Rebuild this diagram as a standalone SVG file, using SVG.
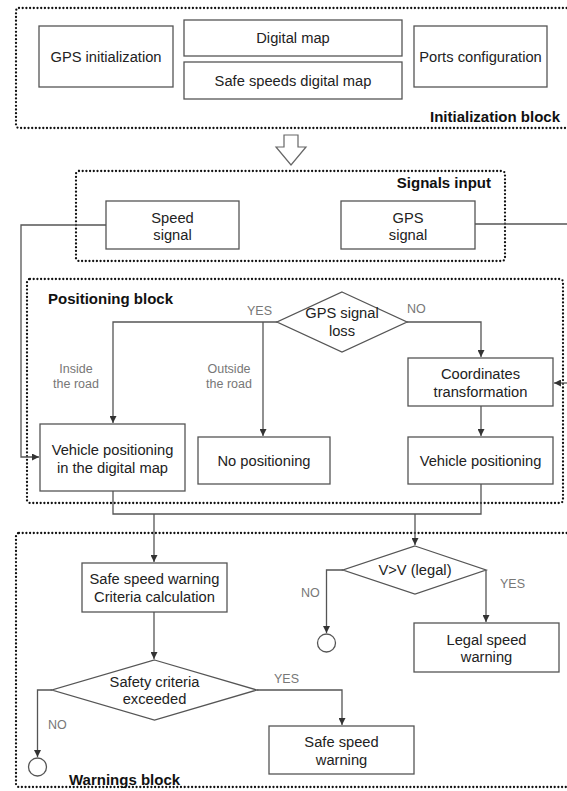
<svg xmlns="http://www.w3.org/2000/svg" width="567" height="791" viewBox="0 0 567 791">
<style>
.blk{fill:none;stroke:#111;stroke-width:2.3;stroke-dasharray:0 3.7;stroke-linecap:round}
.box{fill:#fff;stroke:#555;stroke-width:1.3}
.t{font-family:"Liberation Sans",Arial,sans-serif;font-size:14.7px;fill:#222;text-anchor:middle}
.b{font-family:"Liberation Sans",Arial,sans-serif;font-size:15px;font-weight:bold;fill:#111}
.l{font-family:"Liberation Sans",Arial,sans-serif;font-size:12.5px;fill:#777}
.c{fill:none;stroke:#555;stroke-width:1.3}
</style>
<defs>
<marker id="ah" markerUnits="userSpaceOnUse" markerWidth="7" markerHeight="7" refX="7" refY="3.5" orient="auto">
<path d="M0,0 L7,3.5 L0,7 z" fill="#333"/>
</marker>
</defs>
<rect width="567" height="791" fill="#fff"/>

<g id="blocks">
<rect class="blk" x="16" y="8" width="580" height="120" rx="3"/>
<rect class="blk" x="76" y="171" width="429" height="90" rx="3"/>
<rect class="blk" x="27" y="279" width="536" height="224" rx="3"/>
<rect class="blk" x="16" y="533" width="580" height="254" rx="3"/>
<text class="b" x="560" y="122" text-anchor="end">Initialization block</text>
<text class="b" x="491" y="188" text-anchor="end">Signals input</text>
<text class="b" x="48" y="304">Positioning block</text>
<text class="b" x="69" y="785">Warnings block</text>
</g>

<g id="connectors">
<polygon points="284,135 298,135 298,147 306,147 291,165 276,147 284,147" fill="#fff" stroke="#666" stroke-width="1.2"/>
<path class="c" d="M106,225 H21 V457 H39" marker-end="url(#ah)"/>
<path class="c" d="M475,224 H567"/>
<path class="c" d="M567,383 H554" marker-end="url(#ah)"/>
<path class="c" d="M277,322 H113 V423" marker-end="url(#ah)"/>
<path class="c" d="M263,322 V436" marker-end="url(#ah)"/>
<path class="c" d="M407,322 H481 V357" marker-end="url(#ah)"/>
<path class="c" d="M481,406 V436" marker-end="url(#ah)"/>
<path class="c" d="M113,491 V514 H481 V484"/>
<path class="c" d="M154,514 V562" marker-end="url(#ah)"/>
<path class="c" d="M415,514 V545" marker-end="url(#ah)"/>
<path class="c" d="M154,612 V659" marker-end="url(#ah)"/>
<path class="c" d="M52,690 H37.5 V757" marker-end="url(#ah)"/>
<path class="c" d="M257,690 H342 V725" marker-end="url(#ah)"/>
<path class="c" d="M343,570 H326.5 V633" marker-end="url(#ah)"/>
<path class="c" d="M486,570 V622" marker-end="url(#ah)"/>
<text class="l" x="247" y="315">YES</text>
<text class="l" x="407" y="313">NO</text>
<text class="l" x="76" y="373" text-anchor="middle">Inside</text>
<text class="l" x="76" y="388" text-anchor="middle">the road</text>
<text class="l" x="229" y="373" text-anchor="middle">Outside</text>
<text class="l" x="229" y="388" text-anchor="middle">the road</text>
<text class="l" x="48" y="729">NO</text>
<text class="l" x="274" y="683">YES</text>
<text class="l" x="301" y="597">NO</text>
<text class="l" x="500" y="588">YES</text>
</g>

<g id="gps-init"><rect class="box" x="39" y="26" width="134" height="61"/><text class="t" x="106" y="62">GPS initialization</text></g>
<g id="digital-map"><rect class="box" x="184" y="20" width="218" height="36"/><text class="t" x="293" y="43">Digital map</text></g>
<g id="safe-speeds-map"><rect class="box" x="184" y="62" width="218" height="37"/><text class="t" x="293" y="86">Safe speeds digital map</text></g>
<g id="ports-config"><rect class="box" x="414" y="26" width="133" height="61"/><text class="t" x="480.5" y="62">Ports configuration</text></g>

<g id="speed-signal"><rect class="box" x="106" y="201" width="133" height="48"/><text class="t" x="172.5" y="223">Speed</text><text class="t" x="172.5" y="240">signal</text></g>
<g id="gps-signal"><rect class="box" x="341" y="201" width="134" height="48"/><text class="t" x="408" y="223">GPS</text><text class="t" x="408" y="240">signal</text></g>

<g id="gps-loss"><polygon class="box" points="342,292 407,322 342,352 277,322"/><text class="t" x="342" y="318">GPS signal</text><text class="t" x="342" y="336">loss</text></g>
<g id="veh-pos-map"><rect class="box" x="40" y="424" width="145" height="67"/><text class="t" x="112.5" y="455">Vehicle positioning</text><text class="t" x="112.5" y="473">in the digital map</text></g>
<g id="no-pos"><rect class="box" x="198" y="437" width="132" height="47"/><text class="t" x="264" y="466">No positioning</text></g>
<g id="coord-trans"><rect class="box" x="408" y="358" width="145" height="48"/><text class="t" x="480.5" y="379">Coordinates</text><text class="t" x="480.5" y="397">transformation</text></g>
<g id="veh-pos"><rect class="box" x="408" y="437" width="145" height="47"/><text class="t" x="480.5" y="466">Vehicle positioning</text></g>

<g id="criteria-calc"><rect class="box" x="82" y="563" width="145" height="49"/><text class="t" x="154.5" y="584">Safe speed warning</text><text class="t" x="154.5" y="602">Criteria calculation</text></g>
<g id="safety-exceeded"><polygon class="box" points="154.5,660 257,690 154.5,720 52,690"/><text class="t" x="154.5" y="687">Safety criteria</text><text class="t" x="154.5" y="704">exceeded</text></g>
<g id="end-1"><circle class="box" cx="37.5" cy="767" r="9"/></g>
<g id="safe-warning"><rect class="box" x="269" y="726" width="145" height="48"/><text class="t" x="341.5" y="747">Safe speed</text><text class="t" x="341.5" y="765">warning</text></g>
<g id="v-legal"><polygon class="box" points="415,546 486,570 415,594 343,570"/><text class="t" x="415" y="575">V&gt;V (legal)</text></g>
<g id="end-2"><circle class="box" cx="326.5" cy="643" r="9"/></g>
<g id="legal-warning"><rect class="box" x="414" y="623" width="145" height="49"/><text class="t" x="486.5" y="645">Legal speed</text><text class="t" x="486.5" y="662">warning</text></g>
</svg>
